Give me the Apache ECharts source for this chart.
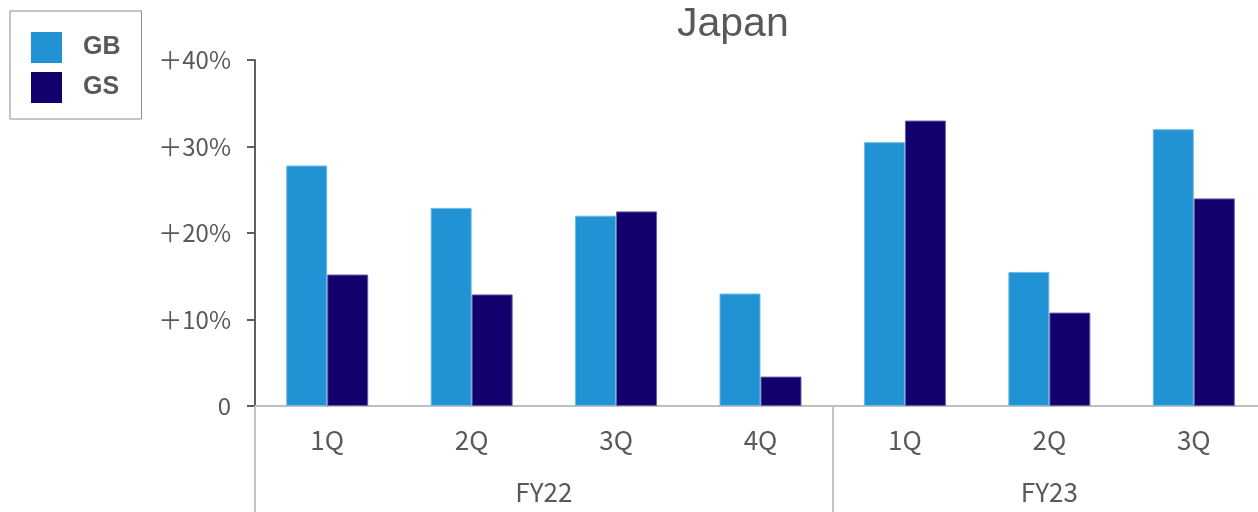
<!DOCTYPE html>
<html>
<head>
<meta charset="utf-8">
<script src="https://cdn.jsdelivr.net/npm/echarts@6/dist/echarts.min.js"></script>
<style>
  html, body { margin: 0; padding: 0; background: #ffffff; }
  #chart { width: 1258px; height: 512px; }
</style>
</head>
<body>
<div id="chart"></div>
<script>
// Quarterly growth, year over year (%)
const quarters = ['1Q', '2Q', '3Q', '4Q', '1Q', '2Q', '3Q'];
const fiscalYears = ['FY22', 'FY23'];
const gbValues = [27.8, 22.9, 22.0, 13.0, 30.5, 15.5, 32.0];
const gsValues = [15.2, 12.9, 22.5, 3.4, 33.0, 10.8, 24.0];
const yTicks = [0, 10, 20, 30, 40];

// Second label row: one slot per half category so each year label sits
// at the middle of its span (FY22: quarters 1-4, FY23: quarters 1-3).
const yearSlots = new Array(quarters.length * 2 + 1).fill('');
yearSlots[4] = fiscalYears[0];
yearSlots[11] = fiscalYears[1];

const textGray = '#595959';
const chart = echarts.init(document.getElementById('chart'));

chart.setOption({
  animation: false,
  backgroundColor: '#ffffff',
  title: {
    text: 'Japan',
    left: 677,
    top: 4,
    padding: 0,
    textStyle: {
      fontFamily: 'Liberation Sans',
      fontSize: 41,
      fontWeight: 'normal',
      color: textGray
    }
  },
  legend: {
    orient: 'vertical',
    left: 10,
    top: 11,
    padding: [21, 21, 16, 21],
    itemWidth: 31,
    itemHeight: 31,
    itemGap: 9,
    borderColor: '#8c8c8c',
    borderWidth: 1,
    icon: 'rect',
    itemStyle: { borderWidth: 0 },
    textStyle: {
      fontFamily: 'Liberation Sans',
      fontSize: 25,
      fontWeight: 'bold',
      color: textGray,
      padding: [3, 0, 0, 16]
    },
    data: ['GB', 'GS']
  },
  grid: {
    left: 255,
    top: 60,
    width: 1011,
    height: 346,
    containLabel: false,
    outerBoundsMode: 'none'
  },
  xAxis: [
    {
      type: 'category',
      data: quarters,
      boundaryGap: true,
      axisLine: { show: true, lineStyle: { color: '#bfbfbf', width: 2 } },
      axisTick: {
        show: true,
        length: 106,
        interval: function (index) { return index === 0 || index === 4; },
        lineStyle: { color: '#c4c4c4', width: 2 }
      },
      axisLabel: {
        margin: 21,
        fontFamily: 'Noto Sans CJK JP',
        fontSize: 26,
        color: textGray,
        interval: 0
      },
      splitLine: { show: false }
    },
    {
      type: 'category',
      data: yearSlots,
      boundaryGap: false,
      position: 'bottom',
      axisLine: { show: false },
      axisTick: { show: false },
      axisLabel: {
        margin: 73,
        fontFamily: 'Noto Sans CJK JP',
        fontSize: 26,
        color: textGray,
        interval: 0
      },
      splitLine: { show: false }
    }
  ],
  yAxis: {
    type: 'value',
    min: yTicks[0],
    max: yTicks[yTicks.length - 1],
    interval: 10,
    axisLine: { show: true, lineStyle: { color: '#5f5f5f', width: 2 } },
    axisTick: { show: true, length: 8, lineStyle: { color: '#5f5f5f', width: 2 } },
    axisLabel: {
      margin: 24,
      fontFamily: 'Noto Sans CJK JP',
      fontSize: 24,
      color: textGray,
      formatter: function (v) { return v === 0 ? '0' : '＋' + v + '%'; }
    },
    splitLine: { show: false }
  },
  series: [
    {
      name: 'GB',
      type: 'bar',
      xAxisIndex: 0,
      data: gbValues,
      barWidth: 41,
      barGap: '0%',
      itemStyle: { color: '#2193d5', borderColor: '#6cbbe8', borderWidth: 1 }
    },
    {
      name: 'GS',
      type: 'bar',
      xAxisIndex: 0,
      data: gsValues,
      barWidth: 41,
      barGap: '0%',
      itemStyle: { color: '#12006c', borderColor: '#6a60a8', borderWidth: 1 }
    }
  ]
});
</script>
</body>
</html>
